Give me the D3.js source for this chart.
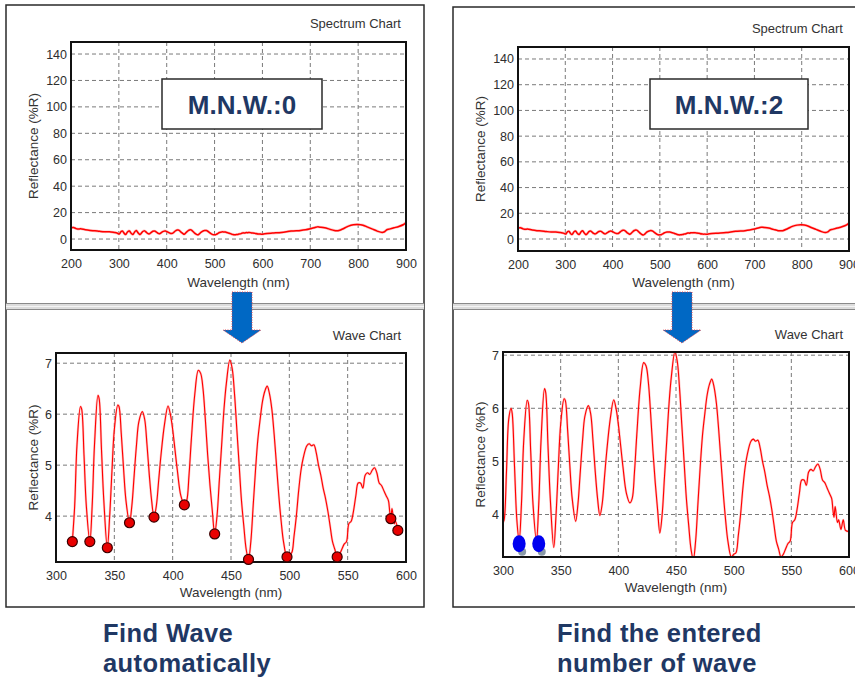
<!DOCTYPE html>
<html><head><meta charset="utf-8">
<script src="https://cdn.jsdelivr.net/npm/d3@7"></script>
<style>
html,body{margin:0;padding:0;background:#fff;}
svg{display:block;font-family:"Liberation Sans",Arial,sans-serif;}
</style></head>
<body>
<svg id="c" width="855" height="679"></svg>
<script>
// ---------- DATA ----------
// Wave chart (300-600 nm), reflectance %R
const waveX = [300,301,303,305,307,308,310,312,314,316,318,321,322,324,326,329,331,333,336,337,339,341,344,346,348,350,353,354,356,358,360,363,365,367,369,371,374,376,378,380,382,384,386,388,390,393,396,398,400,402,404,407,410,412,414,416,419,422,424,426,428,430,432,434,436,438,440,442,444,446,449,451,453,455,457,459,461,463,465,467,469,471,473,475,477,479,481,483,485,487,489,491,493,495,498,500,502,504,506,508,510,512,515,517,519,521,523,525,527,529,531,533,535,537,539,541,543,545,547,549,551,553,555,557,559,561,563,565,567,569,571,573,575,577,579,581,583,585,586,587,588,590,591,593,595,597,600];
const waveY = [3.85,3.9,4.8,5.8,6.0,5.9,4.9,3.9,3.5,4.2,5.4,6.15,6.1,5.2,4.2,3.5,4.2,5.4,6.37,6.3,5.3,4.3,3.38,4.0,4.9,5.7,6.18,6.15,5.6,4.9,4.3,3.87,4.2,4.8,5.4,5.85,6.05,5.9,5.4,4.8,4.3,3.98,4.2,4.7,5.2,5.8,6.16,6.0,5.7,5.3,4.9,4.4,4.22,4.3,4.8,5.5,6.4,6.86,6.8,6.5,5.9,5.2,4.6,4.1,3.65,4.0,4.7,5.4,6.1,6.6,7.06,6.9,6.4,5.7,5.0,4.3,3.8,3.35,3.15,3.5,4.2,4.9,5.5,5.9,6.25,6.45,6.55,6.4,6.1,5.6,5.0,4.4,3.9,3.5,3.2,3.25,3.28,3.6,4.0,4.5,4.9,5.15,5.38,5.42,5.38,5.4,5.25,5.0,4.8,4.55,4.35,4.1,3.8,3.5,3.35,3.2,3.25,3.35,3.45,3.5,3.85,3.9,4.1,4.4,4.65,4.65,4.55,4.8,4.85,4.82,4.9,4.95,4.85,4.65,4.6,4.5,4.4,4.3,4.1,3.95,4.15,3.85,3.9,3.72,3.9,3.7,3.68];
// Spectrum outside 300-600 nm
const specLowX = [200,205,210,215,220,230,240,250,260,270,280,290,296];
const specLowY = [8.5,8.8,8.0,7.5,7.8,7.0,6.5,6.2,5.8,5.5,5.5,5.0,4.6];
const specHighX = [605,620,640,660,680,690,700,710,715,720,730,740,750,760,770,780,790,800,810,820,830,840,850,855,860,865,875,885,895,900];
const specHighY = [4.0,4.5,5.0,6.0,6.5,7.0,7.8,8.8,9.2,9.0,8.5,7.5,6.5,6.5,8.0,9.8,10.8,11.0,10.5,9.0,7.5,6.0,5.0,5.5,7.0,7.5,8.5,9.5,11.0,12.5];
// Detected wave minima (left) and entered waves (right)
const autoMinX = [314,329,344,363,384,410,436,465,498,541,587,593];
const enteredX = [314,331];
const enteredY = [3.45,3.45];
// Tick labels
const specXTicks = [200,300,400,500,600,700,800,900];
const specYTicks = [0,20,40,60,80,100,120,140];
const waveXTicks = [300,350,400,450,500,550,600];
const waveYTicks = [4,5,6,7];
const mnwLabels = ["M.N.W.:0","M.N.W.:2"];
const captions = [["Find Wave","automatically"],["Find the entered","number of wave"]];

// ---------- DRAW ----------
const svg = d3.select("#c");
const navy = "#1f3864";
const waveData = waveX.map((x,i)=>({x, y:waveY[i]}));
const specData = specLowX.map((x,i)=>({x,y:specLowY[i]}))
  .concat(waveData)
  .concat(specHighX.map((x,i)=>({x,y:specHighY[i]})));

let clipId = 0;
function chart(o){
  const g = svg.append("g");
  const x = d3.scaleLinear().domain(o.xd).range([o.x0,o.x1]);
  const y = d3.scaleLinear().domain(o.yd).range([o.y1,o.y0]);
  // grid
  g.append("g").selectAll("line").data(o.yt).join("line")
    .attr("x1",o.x0).attr("x2",o.x1).attr("y1",d=>y(d)).attr("y2",d=>y(d))
    .attr("stroke","#7a7a7a").attr("stroke-dasharray","4,3").attr("stroke-width",1);
  g.append("g").selectAll("line").data(o.xt.filter(d=>d>o.xd[0]&&d<o.xd[1])).join("line")
    .attr("y1",o.y0).attr("y2",o.y1).attr("x1",d=>x(d)).attr("x2",d=>x(d))
    .attr("stroke","#7a7a7a").attr("stroke-dasharray","4,3").attr("stroke-width",1);
  // axes
  const ax = g.append("g").attr("transform",`translate(0,${o.y1})`)
    .call(d3.axisBottom(x).tickValues(o.xt).tickSize(0).tickPadding(o.xpad).tickFormat(d3.format("d")));
  ax.select(".domain").remove();
  ax.selectAll("text").attr("font-size",12.5).attr("fill","#2e2e2e").attr("font-family","Liberation Sans, Arial, sans-serif");
  const ay = g.append("g").attr("transform",`translate(${o.x0},0)`)
    .call(d3.axisLeft(y).tickValues(o.yt).tickSize(0).tickPadding(4).tickFormat(d3.format("d")));
  ay.select(".domain").remove();
  ay.selectAll("text").attr("font-size",12.5).attr("fill","#2e2e2e").attr("font-family","Liberation Sans, Arial, sans-serif");
  // clip
  const id = "clip"+(clipId++);
  g.append("clipPath").attr("id",id).append("rect")
    .attr("x",o.x0).attr("y",o.y0).attr("width",o.x1-o.x0).attr("height",o.y1-o.y0);
  const line = d3.line().x(d=>x(d.x)).y(d=>y(d.y)).curve(d3.curveCatmullRom.alpha(0.5));
  g.append("path").datum(o.data).attr("clip-path",`url(#${id})`)
    .attr("d",line).attr("fill","none").attr("stroke","#ff9a9a").attr("stroke-width",o.sw+1.2).attr("stroke-opacity",0.6);
  g.append("path").datum(o.data).attr("clip-path",`url(#${id})`)
    .attr("d",line).attr("fill","none").attr("stroke","#ff0000").attr("stroke-width",o.sw);
  // frame
  g.append("rect").attr("x",o.x0).attr("y",o.y0).attr("width",o.x1-o.x0).attr("height",o.y1-o.y0)
    .attr("fill","none").attr("stroke","#111").attr("stroke-width",2);
  // titles
  g.append("text").attr("x",(o.x0+o.x1)/2).attr("y",o.xtY).attr("text-anchor","middle")
    .attr("font-size",13.5).attr("fill","#333").text("Wavelength (nm)");
  g.append("text").attr("transform",`translate(${o.ytX},${(o.y0+o.y1)/2}) rotate(-90)`)
    .attr("text-anchor","middle").attr("dy","0.35em").attr("font-size",13.5).attr("fill","#333").text("Reflectance (%R)");
  g.append("text").attr("x",o.tX).attr("y",o.tY).attr("text-anchor","end")
    .attr("font-size",13).attr("fill","#333").text(o.title);
  return {g,x,y,id};
}

// Panels
function panel(px,py,pw,ph){
  svg.append("rect").attr("x",px).attr("y",py).attr("width",pw).attr("height",ph)
    .attr("fill","#fff").attr("stroke","#2a2a2a").attr("stroke-width",1.5);
  // separator
  svg.append("rect").attr("x",px).attr("y",303.5).attr("width",pw).attr("height",6)
    .attr("fill","#dcdcdc");
  svg.append("line").attr("x1",px).attr("x2",px+pw).attr("y1",303.5).attr("y2",303.5).attr("stroke","#8a8a8a");
  svg.append("line").attr("x1",px).attr("x2",px+pw).attr("y1",306.5).attr("y2",306.5).attr("stroke","#f4f4f4");
  svg.append("line").attr("x1",px).attr("x2",px+pw).attr("y1",309.5).attr("y2",309.5).attr("stroke","#8a8a8a");
}
panel(6,5,418,602);
panel(453,7,420,600);

// Left spectrum
chart({x0:71,x1:406,y0:42,y1:250,xd:[200,900],yd:[-8.3,149.1],xt:specXTicks,yt:specYTicks,
  data:specData,sw:1.5,xpad:9,xtY:287,ytX:33,tX:401,tY:28,title:"Spectrum Chart"});
// Right spectrum
chart({x0:518,x1:849,y0:47,y1:251,xd:[200,900],yd:[-9.33,149.33],xt:specXTicks,yt:specYTicks,
  data:specData,sw:1.5,xpad:9,xtY:287,ytX:480,tX:843,tY:33,title:"Spectrum Chart"});
// Left wave
const lw = chart({x0:56,x1:406,y0:353,y1:562,xd:[300,600],yd:[3.1,7.2],xt:waveXTicks,yt:waveYTicks,
  data:waveData.filter(d=>d.x>=314&&d.x<=593),sw:1.1,xpad:9,xtY:597,ytX:33,tX:401,tY:340,title:"Wave Chart"});
// Right wave
const rw = chart({x0:503,x1:849,y0:352,y1:557,xd:[300,600],yd:[3.2,7.06],xt:waveXTicks,yt:waveYTicks,
  data:waveData,sw:1.1,xpad:9,xtY:592,ytX:480,tX:843,tY:339,title:"Wave Chart"});

// Left markers (auto-found minima)
const lookup = new Map(waveData.map(d=>[d.x,d.y]));
lw.g.append("g").selectAll("circle").data(autoMinX).join("circle")
  .attr("cx",d=>lw.x(d)).attr("cy",d=>lw.y(lookup.get(d)))
  .attr("r",5).attr("fill","#e80000").attr("stroke","#3a0000").attr("stroke-width",1.2);
// Right markers (entered)
const ent = enteredX.map((x,i)=>({x,y:enteredY[i]}));
rw.g.append("g").attr("clip-path",`url(#${rw.id})`).selectAll("circle").data(ent).join("circle")
  .attr("cx",d=>rw.x(d.x)+3).attr("cy",d=>rw.y(d.y)+8).attr("r",4).attr("fill","#8a9aa8");
rw.g.append("g").selectAll("ellipse").data(ent).join("ellipse")
  .attr("cx",d=>rw.x(d.x)).attr("cy",d=>rw.y(d.y)).attr("rx",6.5).attr("ry",8.5).attr("fill","#0000f0");

// M.N.W boxes
[[162,79,160,50],[650,79,158,50]].forEach((b,i)=>{
  svg.append("rect").attr("x",b[0]).attr("y",b[1]).attr("width",b[2]).attr("height",b[3])
    .attr("fill","#fff").attr("stroke","#2a2a2a").attr("stroke-width",1.5);
  svg.append("text").attr("x",b[0]+b[2]/2).attr("y",114).attr("text-anchor","middle")
    .attr("font-size",26).attr("font-weight","bold").attr("fill",navy).text(mnwLabels[i]);
});

// Arrows
[242,682].forEach(cx=>{
  const p = [[cx-10,292],[cx+10,292],[cx+10,330],[cx+19,330],[cx,343],[cx-19,330],[cx-10,330]];
  svg.append("path").attr("d","M"+p.map(q=>q.join(",")).join("L")+"Z")
    .attr("fill","#0068c4").attr("stroke","#e0404a").attr("stroke-width",1).attr("stroke-dasharray","1,1.5");
});

// Captions
[[103,captions[0]],[557,captions[1]]].forEach(([cx,lines])=>{
  lines.forEach((t,j)=>{
    svg.append("text").attr("x",cx).attr("y",642+j*30).attr("font-size",25.5)
      .attr("letter-spacing",0.4)
      .attr("font-weight","bold").attr("fill",navy).text(t);
  });
});
</script>
</body></html>
